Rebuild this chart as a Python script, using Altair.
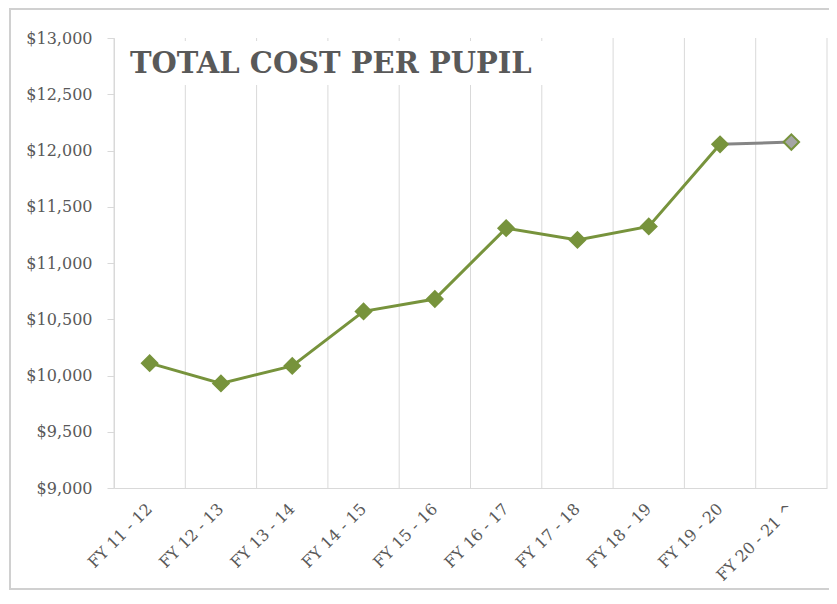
import altair as alt
import pandas as pd

# ---- data ----
years = ["FY 11 - 12", "FY 12 - 13", "FY 13 - 14", "FY 14 - 15", "FY 15 - 16",
         "FY 16 - 17", "FY 17 - 18", "FY 18 - 19", "FY 19 - 20", "FY 20 - 21 ^"]
cost = [10110, 9930, 10085, 10570, 10680, 11310, 11205, 11325, 12055, 12075]
projected = [False, False, False, False, False, False, False, False, False, True]
y_ticks = [9000, 9500, 10000, 10500, 11000, 11500, 12000, 12500, 13000]
TITLE = "TOTAL COST PER PUPIL"

GREEN = "#77933C"
GRAY_LINE = "#858585"
GRAY_FILL = "#A5A5A5"
GRID = "#D9D9D9"
TEXT = "#595959"
FONT = "DejaVu Serif"

W, H = 713, 450
BAND = W / len(years)

pts = pd.DataFrame({"year": years, "cost": cost,
                    "status": ["Projected" if p else "Actual" for p in projected]})

# line segments: actual points, then the projected continuation from the last actual point
rows = []
last_actual = max(i for i, p in enumerate(projected) if not p)
for i, (yv, c, p) in enumerate(zip(years, cost, projected)):
    if not p:
        rows.append({"year": yv, "cost": c, "seg": "Actual"})
    if p or i == last_actual:
        rows.append({"year": yv, "cost": c, "seg": "Projected"})
segs = pd.DataFrame(rows)

x_enc = alt.X(
    "year:N", sort=years,
    scale=alt.Scale(type="band", paddingInner=0, paddingOuter=0),
    axis=alt.Axis(title=None, grid=False, ticks=False, domainColor=GRID, domainWidth=1,
                  labelAngle=-45, labelAlign="right", labelBaseline="middle",
                  labelPadding=18, labelFont=FONT,
                  labelFontSize=16, labelColor=TEXT),
)
y_enc = alt.Y(
    "cost:Q",
    scale=alt.Scale(domain=[9000, 13000], nice=False, zero=False),
    axis=alt.Axis(title=None, values=y_ticks, format="$,.0f", grid=False,
                  domainColor=GRID, tickColor=GRID, tickSize=7, labelPadding=15,
                  labelFont=FONT, labelFontSize=16, labelColor=TEXT),
)

dummy = pd.DataFrame({"k": [0]})

frame = alt.Chart(dummy).mark_rect(fillOpacity=0, stroke="#D0D0D0", strokeWidth=2).encode(
    x=alt.value(-104), x2=alt.value(740), y=alt.value(-29), y2=alt.value(551))

# vertical gridlines at the left edge of each category band, plus the right edge
grid = alt.Chart(pts).mark_rule(color=GRID, strokeWidth=1, xOffset=-BAND / 2).encode(
    x=x_enc, y=alt.value(0), y2=alt.value(H))
right_grid = alt.Chart(dummy).mark_rule(color=GRID, strokeWidth=1).encode(
    x=alt.value(W), y=alt.value(0), y2=alt.value(H))

title_box = alt.Chart(dummy).mark_rect(fill="white").encode(
    x=alt.value(1), x2=alt.value(440), y=alt.value(3), y2=alt.value(47))

lines = alt.Chart(segs).mark_line(strokeWidth=3).encode(
    x=x_enc, y=y_enc, detail="seg:N",
    color=alt.Color("seg:N", scale=alt.Scale(domain=["Actual", "Projected"],
                                             range=[GREEN, GRAY_LINE]), legend=None),
)

points = alt.Chart(pts).mark_point(shape="diamond", size=240, filled=True, opacity=1,
                                   stroke=GREEN, strokeWidth=2).encode(
    x=x_enc, y=y_enc,
    fill=alt.Fill("status:N", scale=alt.Scale(domain=["Actual", "Projected"],
                                              range=[GREEN, GRAY_FILL]), legend=None),
)

title = alt.Chart(dummy).mark_text(
    text=TITLE, font=FONT, fontSize=29, fontWeight="bold", color=TEXT,
    align="left", baseline="alphabetic").encode(x=alt.value(16), y=alt.value(35))

chart = alt.layer(frame, grid, right_grid, title_box, lines, points, title).resolve_scale(
    color="independent", fill="independent"
).properties(
    width=W, height=H,
    autosize=alt.AutoSizeParams(type="none"),
    padding={"left": 106, "top": 30, "right": 2, "bottom": 102},
    background="white",
).configure_view(stroke=None)

chart.save("out.html", embed_options={"renderer": "svg", "actions": False})
